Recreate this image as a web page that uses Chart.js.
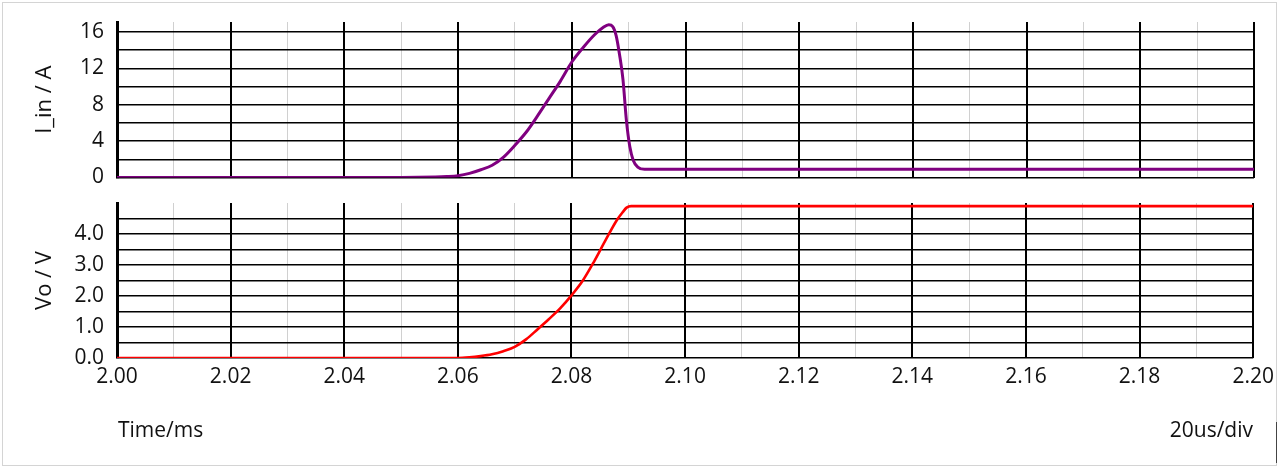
<!DOCTYPE html>
<html>
<head>
<meta charset="utf-8">
<script src="https://cdn.jsdelivr.net/npm/chart.js@4.4.1/dist/chart.umd.min.js"></script>
<style>
    body { margin: 0; background: #fff; font-family: "Open Sans", sans-serif; }
    #wrap { position: relative; width: 1280px; height: 469px; overflow: hidden; }
    #frame { position: absolute; left: 2px; top: 2px; width: 1273px; height: 462px; border: 1px solid #d4d4d4; }
    #grip { position: absolute; left: 1276px; top: 422px; width: 1px; height: 41px; background: #444; }
    canvas { position: absolute; left: 0; }
    #topChart { top: 0; }
    #bottomChart { top: 190px; }
    .label { position: absolute; font-size: 21px; line-height: 21px; color: #111; }
    #timeLabel { left: 118px; top: 419px; }
    #divLabel { right: 27px; top: 419px; }
</style>
</head>
<body>
<div id="wrap">
    <div id="frame"></div>
    <div id="grip"></div>
    <canvas id="topChart" width="1280" height="190"></canvas>
    <canvas id="bottomChart" width="1280" height="279"></canvas>
    <div class="label" id="timeLabel">Time/ms</div>
    <div class="label" id="divLabel">20us/div</div>
</div>
<script>
// Input current (time in ms, current in A)
const timeIn    = [2.000, 2.050, 2.056, 2.058, 2.060, 2.062, 2.064, 2.066, 2.068, 2.070, 2.072, 2.074, 2.076, 2.078, 2.080, 2.082, 2.084, 2.0855, 2.0865, 2.0872, 2.0878, 2.0884, 2.0890, 2.0896, 2.0902, 2.0908, 2.0916, 2.0928, 2.200];
const currentIn = [0,     0,     0.05,  0.1,   0.2,   0.45,  0.85,  1.35,  2.25,  3.55,  5.0,   6.8,   8.7,   10.6,  12.7,  14.3,  15.7,  16.5,   16.8,   16.6,   15.6,   13.5,   10.8,   6.3,    3.4,    1.9,    1.15,   0.9,    0.9];

// Output voltage (time in ms, voltage in V)
const timeOut    = [2.000, 2.060, 2.062, 2.064, 2.066, 2.068, 2.070, 2.072, 2.074, 2.076, 2.078, 2.080, 2.082, 2.084, 2.086, 2.088, 2.089, 2.0897, 2.0905, 2.200];
const voltageOut = [0,     0,     0.02,  0.06,  0.12,  0.22,  0.36,  0.6,   0.92,  1.25,  1.6,   2.02,  2.5,   3.12,  3.8,   4.45,  4.7,   4.85,   4.9,    4.9];

// Axis ranges, grid lines and labelled ticks
const timeMin = 2.00, timeMax = 2.20, timeStep = 0.01;
const currentGrid  = [0, 2, 4, 6, 8, 10, 12, 14, 16];
const currentTicks = [0, 4, 8, 12, 16];
const voltageGrid  = [0, 0.5, 1, 1.5, 2, 2.5, 3, 3.5, 4, 4.5];
const voltageTicks = [0, 1, 2, 3, 4];

const FONT = { family: '"Open Sans", sans-serif', size: 21 };
const TITLE_FONT = { family: '"Open Sans", sans-serif', size: 22 };

function toPoints(xs, ys) {
    return xs.map((x, i) => ({ x: x, y: ys[i] }));
}

/**
 * Build the options for one panel
 */
function panelOptions(cfg) {
    return {
        responsive: false,
        animation: false,
        layout: { padding: { top: cfg.padTop, left: 28, right: 26, bottom: 0 } },
        plugins: { legend: { display: false }, tooltip: { enabled: false } },
        scales: {
            x: {
                type: 'linear',
                min: timeMin,
                max: timeMax,
                afterFit: function(scale) { scale.height = cfg.xHeight; },
                border: { display: false },
                grid: {
                    drawTicks: false,
                    color: ctx => ctx.index % 2 === 0 ? '#000' : '#d0d0d0',
                    lineWidth: ctx => ctx.index % 2 === 0 ? 2 : 1
                },
                ticks: {
                    display: cfg.showTime,
                    stepSize: timeStep,
                    autoSkip: false,
                    maxRotation: 0,
                    padding: 6,
                    color: '#111',
                    font: FONT,
                    callback: (value, index) => index % 2 === 0 ? value.toFixed(2) : ''
                }
            },
            y: {
                min: 0,
                max: cfg.yMax,
                afterBuildTicks: function(scale) {
                    scale.ticks = cfg.grid.map(v => ({ value: v }));
                },
                afterFit: function(scale) {
                    scale.width = 89;
                    scale.paddingTop = 0;
                    scale.paddingBottom = 0;
                },
                border: { display: true, color: '#000', width: 3 },
                title: { display: true, text: cfg.title, color: '#111', font: TITLE_FONT },
                grid: { drawTicks: false, color: '#000', lineWidth: 1.6 },
                ticks: {
                    autoSkip: false,
                    padding: 13,
                    color: '#111',
                    font: FONT,
                    callback: value => cfg.labels.includes(value) ? cfg.format(value) : ''
                }
            }
        }
    };
}

new Chart(document.getElementById('topChart'), {
    type: 'line',
    data: {
        datasets: [{
            data: toPoints(timeIn, currentIn),
            borderColor: '#800080',
            borderWidth: 3,
            pointRadius: 0,
            cubicInterpolationMode: 'monotone'
        }]
    },
    options: panelOptions({
        padTop: 22, xHeight: 12.5, showTime: false,
        yMax: 17.1, grid: currentGrid,
        title: 'I_in / A', labels: currentTicks, format: v => String(v)
    })
});

new Chart(document.getElementById('bottomChart'), {
    type: 'line',
    data: {
        datasets: [{
            data: toPoints(timeOut, voltageOut),
            borderColor: '#ff0000',
            borderWidth: 2.6,
            pointRadius: 0,
            cubicInterpolationMode: 'monotone'
        }]
    },
    options: panelOptions({
        padTop: 13, xHeight: 111, showTime: true,
        yMax: 5, grid: voltageGrid,
        title: 'Vo / V', labels: voltageTicks, format: v => v.toFixed(1)
    })
});
</script>
</body>
</html>
